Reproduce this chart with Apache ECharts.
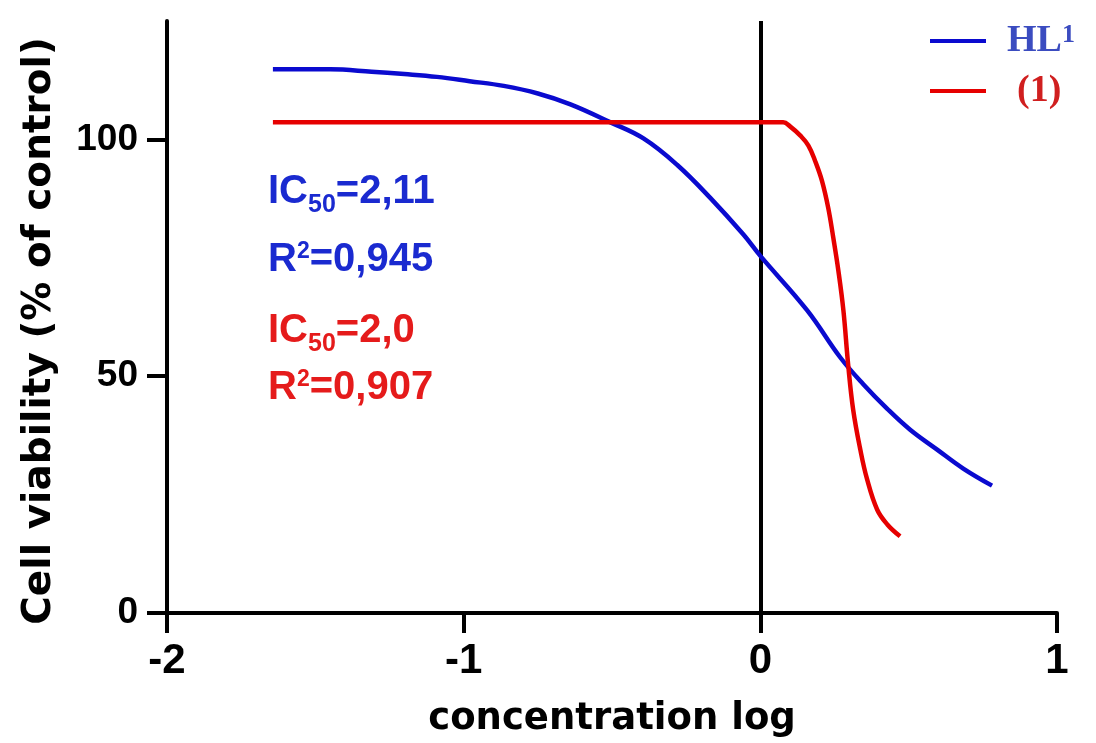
<!DOCTYPE html>
<html>
<head>
<meta charset="utf-8">
<script src="https://cdn.jsdelivr.net/npm/echarts@6/dist/echarts.min.js"></script>
<style>
html,body{margin:0;padding:0;background:#fff;}
#chart{width:1096px;height:743px;}
</style>
</head>
<body>
<div id="chart"></div>
<script>
// Data
const hlX = [-1.643, -1.45, -1.31, -1.2, -1.09, -0.98, -0.865, -0.75, -0.64, -0.505, -0.394, -0.28, -0.168, -0.057, 0, 0.158, 0.269, 0.347, 0.428, 0.505, 0.596, 0.684, 0.781];
const hlY = [114.8, 114.8, 114.3, 113.8, 113.2, 112.3, 111.3, 109.7, 107.4, 103.6, 100.2, 94.6, 87.6, 79.9, 75.4, 63.9, 54.0, 48.3, 43.1, 38.7, 34.5, 30.5, 26.9];
const c1X = [-1.643, -1.0, -0.5, 0, 0.077, 0.101, 0.135, 0.162, 0.185, 0.208, 0.229, 0.246, 0.263, 0.28, 0.296, 0.313, 0.337, 0.36, 0.394, 0.428, 0.471];
const c1Y = [103.6, 103.6, 103.6, 103.6, 103.6, 102.7, 100.8, 98.7, 95.4, 91.2, 85.5, 79.2, 72.3, 63.9, 52.5, 42.9, 34.5, 28.2, 21.8, 18.7, 16.2];
const xTicks = [-2, -1, 0, 1];
const yTicks = [0, 50, 100];
const seriesNames = ['HL1', '(1)'];
const legendLabels = {'HL1': '{t|HL}{u|1}', '(1)': '{t|(1)}'};
const annotations = [
  {text: '{m|IC}{s|50}{m|=2,11}', color: '#1a2ad0', top: 172, sup: false},
  {text: '{m|R}{p|2}{m|=0,945}', color: '#1a2ad0', top: 240, sup: true},
  {text: '{m|IC}{s|50}{m|=2,0}', color: '#e51b1b', top: 311, sup: false},
  {text: '{m|R}{p|2}{m|=0,907}', color: '#e51b1b', top: 368, sup: true}
];

const zip = (xs, ys) => xs.map((x, i) => [x, ys[i]]);
const chart = echarts.init(document.getElementById('chart'));
const axisTick = {show: true, inside: false, length: 20, lineStyle: {color: '#000', width: 4}};

const graphics = annotations.map(a => ({
  type: 'text', left: 268, top: a.top, silent: true,
  style: {
    text: a.text, fill: a.color,
    rich: {
      m: {fontFamily: 'Liberation Sans', fontWeight: 'bold', fontSize: 40, lineHeight: a.sup ? 40 : 52, fill: a.color},
      s: {fontFamily: 'Liberation Sans', fontWeight: 'bold', fontSize: 25, verticalAlign: 'bottom', fill: a.color},
      p: {fontFamily: 'Liberation Sans', fontWeight: 'bold', fontSize: 23, verticalAlign: 'top', fill: a.color}
    }
  }
}));
graphics.push({
  type: 'text', x: 40, y: 331, rotation: Math.PI / 2, silent: true,
  style: {text: 'Cell viability (% of control)', fill: '#000', font: 'bold 39px "DejaVu Sans"', align: 'center', verticalAlign: 'middle'}
});

const legendRich = (color) => ({
  t: {fontFamily: 'Liberation Serif', fontWeight: 'bold', fontSize: 38, lineHeight: 38, color: color},
  u: {fontFamily: 'Liberation Serif', fontWeight: 'bold', fontSize: 26, verticalAlign: 'top', color: color}
});

chart.setOption({
  animation: false,
  backgroundColor: '#fff',
  grid: {left: 167, right: 39, top: 21, bottom: 127, containLabel: false},
  legend: {
    left: 930, top: 22, orient: 'vertical', padding: 0, itemGap: 12,
    icon: 'rect', itemWidth: 56, itemHeight: 4,
    formatter: name => legendLabels[name],
    textStyle: {fontFamily: 'Liberation Serif', fontWeight: 'bold', fontSize: 38, lineHeight: 38},
    data: [
      {name: seriesNames[0], textStyle: {color: '#3b4cc0', padding: [0, 0, 0, 16], rich: legendRich('#3b4cc0')}},
      {name: seriesNames[1], textStyle: {color: '#d01f1f', padding: [0, 0, 0, 26], rich: legendRich('#d01f1f')}}
    ]
  },
  xAxis: {
    type: 'value', min: -2, max: 1, interval: 1,
    name: 'concentration log', nameLocation: 'middle', nameGap: 88,
    nameTextStyle: {fontFamily: 'DejaVu Sans', fontWeight: 'bold', fontSize: 37, color: '#000'},
    axisLine: {show: true, onZero: false, lineStyle: {color: '#000', width: 4}},
    axisTick: Object.assign({customValues: xTicks}, axisTick),
    splitLine: {show: false},
    axisLabel: {customValues: xTicks, margin: 27, color: '#000', fontFamily: 'Liberation Sans', fontWeight: 'bold', fontSize: 42}
  },
  yAxis: {
    type: 'value', min: 0, max: 125, interval: 50,
    axisLine: {show: true, onZero: false, lineStyle: {color: '#000', width: 4}},
    axisTick: Object.assign({customValues: yTicks}, axisTick),
    splitLine: {show: false},
    axisLabel: {customValues: yTicks, margin: 29, color: '#000', fontFamily: 'Liberation Sans', fontWeight: 'bold', fontSize: 37}
  },
  graphic: graphics,
  series: [
    {
      name: seriesNames[0], type: 'line', data: zip(hlX, hlY), showSymbol: false,
      smooth: 0.4, color: '#0a0acf',
      lineStyle: {width: 4.5, color: '#0a0acf'}, z: 3
    },
    {
      name: seriesNames[1], type: 'line', data: zip(c1X, c1Y), showSymbol: false,
      smooth: 0.4, color: '#e60000',
      lineStyle: {width: 4.5, color: '#e60000'}, z: 3,
      markLine: {
        silent: true, symbol: ['none', 'none'], label: {show: false},
        lineStyle: {color: '#000', width: 4, type: 'solid'},
        data: [{xAxis: 0}], z: 2
      }
    }
  ]
});
</script>
</body>
</html>
